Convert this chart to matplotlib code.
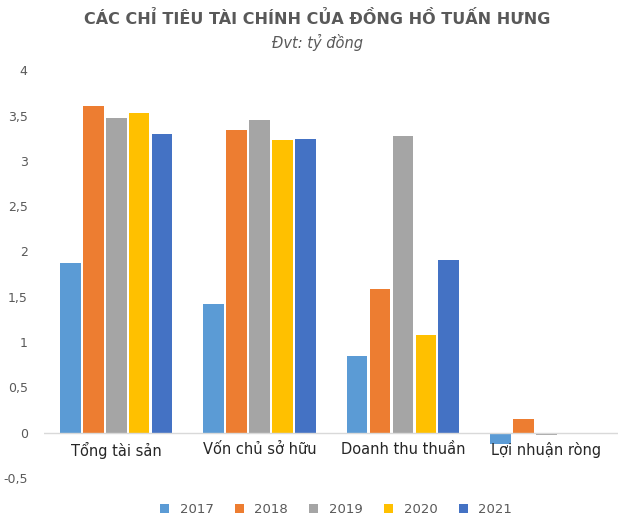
import matplotlib
matplotlib.use("Agg")
import matplotlib.pyplot as plt
import numpy as np

categories = ["Tổng tài sản", "Vốn chủ sở hữu", "Doanh thu thuần", "Lợi nhuận ròng"]
years = ["2017", "2018", "2019", "2020", "2021"]
values = {
    "2017": [1.87, 1.42, 0.84, -0.13],
    "2018": [3.61, 3.34, 1.58, 0.15],
    "2019": [3.47, 3.45, 3.27, -0.03],
    "2020": [3.53, 3.23, 1.08, 0.0],
    "2021": [3.30, 3.24, 1.90, 0.0],
}
colors = ["#5B9BD5", "#ED7D31", "#A5A5A5", "#FFC000", "#4472C4"]
yticks = [-0.5, 0, 0.5, 1, 1.5, 2, 2.5, 3, 3.5, 4]

fig = plt.figure(figsize=(6.34, 5.28), dpi=100)
ax = fig.add_axes([0.07, 0.095, 0.905, 0.772])
x = np.arange(len(categories))
w = 0.145
gap = 0.015
for i, y in enumerate(years):
    ax.bar(x + (i - 2) * (w + gap), values[y], w, color=colors[i], label=y)
ax.set_ylim(-0.5, 4)
ax.set_xlim(-0.5, 3.5)
ax.set_yticks(yticks)
ax.set_yticklabels([("%g" % t).replace(".", ",") for t in yticks], fontsize=9, color="#595959")
ax.set_xticks([])
for s in ["top", "right", "left", "bottom"]:
    ax.spines[s].set_visible(False)
ax.axhline(0, color="#D9D9D9", lw=1)
ax.tick_params(axis="y", length=0, pad=12)
for i, c in enumerate(categories):
    ax.text(i, -0.1, c, ha="center", va="top", fontsize=10.5, color="#262626")
fig.text(0.5, 0.955, "CÁC CHỈ TIÊU TÀI CHÍNH CỦA ĐỒNG HỒ TUẤN HƯNG", ha="center",
         fontsize=11.5, fontweight="bold", color="#595959")
fig.text(0.5, 0.91, "Đvt: tỷ đồng", ha="center", fontsize=10.5, style="italic", color="#595959")
fig.legend(loc="lower center", ncol=5, frameon=False, fontsize=9.5, bbox_to_anchor=(0.53, 0.0),
           handlelength=0.7, handleheight=0.7, columnspacing=1.6, labelcolor="#595959")
fig.savefig("out.png")
